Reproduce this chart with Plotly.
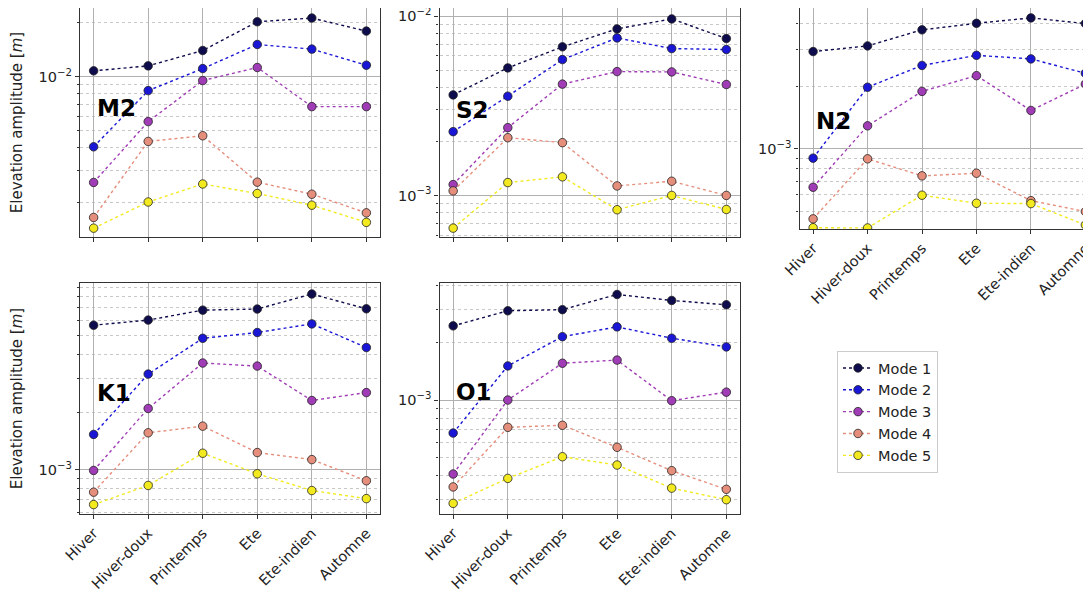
import plotly.graph_objects as go
import numpy as np

seasons = ["Hiver", "Hiver-doux", "Printemps", "Ete", "Ete-indien", "Automne"]
modes = ["Mode 1", "Mode 2", "Mode 3", "Mode 4", "Mode 5"]
colors = ["#0e0c4c", "#1a16d6", "#a03cb6", "#e68e7c", "#f2ea1e"]
decade_vals = [1e-4, 1e-3, 1e-2, 1e-1]
decade_text = ["10<sup>−4</sup>", "10<sup>−3</sup>", "10<sup>−2</sup>", "10<sup>−1</sup>"]

m2 = [
    [0.01076, 0.01147, 0.01397, 0.02020, 0.02118, 0.01792],
    [0.00406, 0.00835, 0.01108, 0.01509, 0.01422, 0.01157],
    [0.00257, 0.00561, 0.00950, 0.01123, 0.00680, 0.00680],
    [0.00164, 0.00435, 0.00468, 0.00258, 0.00221, 0.00174],
    [0.00143, 0.00200, 0.00252, 0.00223, 0.00192, 0.00154],
]
s2 = [
    [0.00364, 0.00515, 0.00675, 0.00850, 0.00966, 0.00751],
    [0.00227, 0.00358, 0.00573, 0.00757, 0.00660, 0.00652],
    [0.00115, 0.00239, 0.00418, 0.00491, 0.00489, 0.00416],
    [0.00106, 0.00210, 0.00197, 0.00113, 0.00120, 0.00100],
    [0.000657, 0.00118, 0.00127, 0.000832, 0.00100, 0.000835],
]
n2 = [
    [0.00294, 0.00313, 0.00374, 0.00402, 0.00427, 0.00401],
    [0.000902, 0.00198, 0.00252, 0.00282, 0.00271, 0.00231],
    [0.000653, 0.00129, 0.00189, 0.00225, 0.00153, 0.00205],
    [0.000460, 0.000895, 0.000741, 0.000763, 0.000563, 0.000499],
    [0.000417, 0.000416, 0.000598, 0.000547, 0.000545, 0.000430],
]
k1 = [
    [0.00569, 0.00605, 0.00682, 0.00691, 0.00828, 0.00693],
    [0.00153, 0.00316, 0.00486, 0.00521, 0.00578, 0.00435],
    [0.000992, 0.00209, 0.00361, 0.00348, 0.00230, 0.00253],
    [0.000764, 0.00156, 0.00169, 0.00123, 0.00113, 0.000876],
    [0.000658, 0.000828, 0.00122, 0.000953, 0.000779, 0.000707],
]
o1 = [
    [0.00245, 0.00294, 0.00298, 0.00358, 0.00333, 0.00316],
    [0.000671, 0.00151, 0.00215, 0.00242, 0.00211, 0.00190],
    [0.000409, 0.00100, 0.00156, 0.00162, 0.000992, 0.00110],
    [0.000350, 0.000719, 0.000737, 0.000565, 0.000426, 0.000340],
    [0.000287, 0.000388, 0.000504, 0.000456, 0.000345, 0.000300],
]

W, H = 1091, 594
OFF = 8  # page body margin offset of the embedded figure


def px(x):
    return min(1.0, max(0.0, (x - OFF) / W))


def py(y):
    return min(1.0, max(0.0, 1 - (y - OFF) / H))


panels = [
    ("M2", m2, [px(80), px(380)], [py(237), py(8)], [-2.894, -1.618], False, True),
    ("S2", s2, [px(439.5), px(740)], [py(237), py(8)], [-3.232, -1.954], False, False),
    ("N2", n2, [px(799.5), 1.0], [py(229), py(8)], [-3.386, -2.322], True, False),
    ("K1", k1, [px(80), px(380)], [py(514), py(283)], [-3.231, -2.0245], True, True),
    ("O1", o1, [px(439.5), px(740)], [py(514), py(283)], [-3.598, -2.386], True, False),
]
label_pos = {"M2": (95, 108), "S2": (454, 110), "N2": (814, 121), "K1": (95, 393), "O1": (454, 392)}

FONT = "DejaVu Sans"
fig = go.Figure()
layout = {}
annotations = []
for i, (name, data, xd, yd, yr, showx, showyt) in enumerate(panels):
    n = "" if i == 0 else str(i + 1)
    xa, ya = "x" + n, "y" + n
    for m in range(5):
        fig.add_trace(go.Scatter(
            x=list(range(len(seasons))), y=data[m], xaxis=xa, yaxis=ya,
            mode="lines+markers", name=modes[m], showlegend=(i == 0),
            line=dict(color=colors[m], width=1.4, dash="dot"),
            marker=dict(color=colors[m], size=8.5, line=dict(color="#222222", width=0.8)),
        ))
    lo, hi = int(np.floor(yr[0])), int(np.ceil(yr[1]))
    minor_vals = [k * 10.0 ** e for e in range(lo, hi) for k in range(2, 10)]
    xaxis = dict(
        domain=xd, anchor=ya, range=[-0.25, 5.25], tickmode="array", automargin=False,
        tickvals=list(range(len(seasons))), ticktext=seasons, ticklabeloverflow="allow",
        showticklabels=showx, tickangle=-45, ticks="outside", ticklen=4,
        tickcolor="#333", showgrid=True, gridcolor="#b0b0b0", gridwidth=1,
        showline=True, linecolor="#333", linewidth=1.2, mirror=True, zeroline=False,
        tickfont=dict(family=FONT, size=14.5, color="#222"),
    )
    yaxis = dict(
        domain=yd, anchor=xa, type="log", range=yr, automargin=False,
        tickmode="array", tickvals=decade_vals, ticktext=decade_text, ticklabeloverflow="allow",
        showgrid=True, gridcolor="#b0b0b0", gridwidth=1, ticks="outside", ticklen=4,
        tickcolor="#333", showline=True, linecolor="#333", linewidth=1.2, mirror=True,
        tickfont=dict(family=FONT, size=14.5, color="#222"),
        minor=dict(tickmode="array", tickvals=minor_vals, showgrid=True,
                   gridcolor="#c8c8c8", griddash="dot", gridwidth=1,
                   ticks="outside", ticklen=2, tickcolor="#333"),
    )
    if showyt:
        yaxis["title"] = dict(text="Elevation amplitude [<i>m</i>]",
                              font=dict(family=FONT, size=15, color="#222"))
    layout["xaxis" + n] = xaxis
    layout["yaxis" + n] = yaxis
    lx, ly = label_pos[name]
    annotations.append(dict(text="<b>%s</b>" % name, x=px(lx), y=py(ly),
                            xref="paper", yref="paper", xanchor="left", yanchor="middle",
                            showarrow=False, font=dict(family=FONT, size=23, color="black")))

fig.update_layout(
    width=W, height=H, margin=dict(l=0, r=0, t=0, b=0),
    plot_bgcolor="white", paper_bgcolor="white",
    annotations=annotations,
    legend=dict(x=px(837), y=py(351), xanchor="left", yanchor="top",
                bgcolor="white", bordercolor="#cccccc", borderwidth=1,
                font=dict(family=FONT, size=14.5, color="#222"),
                tracegroupgap=0, itemwidth=30),
    **layout,
)
fig.write_html("out.html")
